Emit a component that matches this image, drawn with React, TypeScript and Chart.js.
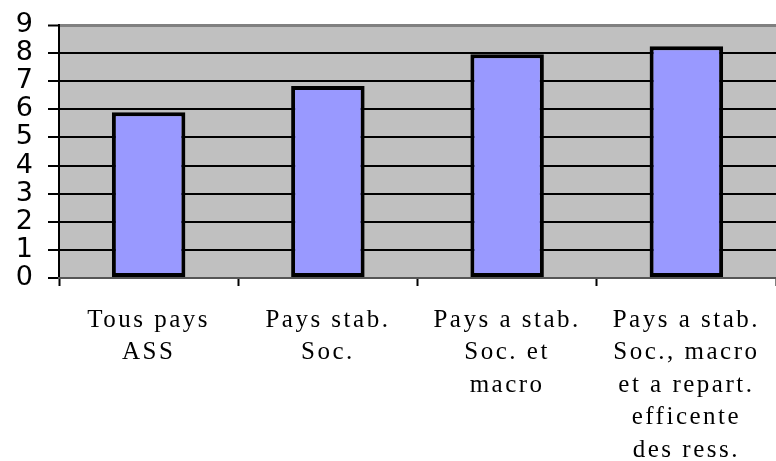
import React, { useEffect, useRef } from "react";
import { Chart, registerables } from "chart.js";

Chart.register(...registerables);

const categories: string[][] = [
  ["Tous pays", "ASS"],
  ["Pays stab.", "Soc."],
  ["Pays a stab.", "Soc. et", "macro"],
  ["Pays a stab.", "Soc., macro", "et a repart.", "efficente", "des ress."],
];
const values: number[] = [5.9, 6.83, 7.96, 8.24];
const yMin = 0;
const yMax = 9;
const yStep = 1;

const bgPlugin = {
  id: "plotBg",
  beforeDraw(chart: any) {
    const { ctx, chartArea } = chart;
    ctx.save();
    ctx.fillStyle = "#C0C0C0";
    ctx.fillRect(chartArea.left, chartArea.top, chartArea.right - chartArea.left, chartArea.bottom - chartArea.top);
    ctx.restore();
  },
  afterDatasetsDraw(chart: any) {
    chart.ctx.save();
    (chart.ctx as any).letterSpacing = "2.5px";
  },
  afterDraw(chart: any) {
    chart.ctx.restore();
  },
};

export default function App() {
  const ref = useRef<HTMLCanvasElement | null>(null);
  useEffect(() => {
    if (!ref.current) return;
    const chart = new Chart(ref.current, {
      type: "bar",
      data: {
        labels: categories,
        datasets: [
          {
            data: values,
            backgroundColor: "#9999FF",
            borderColor: "#000000",
            borderWidth: 4,
            borderSkipped: false,
            barPercentage: 0.41,
            categoryPercentage: 1,
          },
        ],
      },
      options: {
        animation: false,
        responsive: true,
        maintainAspectRatio: false,
        layout: { padding: { top: 25, left: 0, right: 0, bottom: 0 } },
        plugins: { legend: { display: false }, tooltip: { enabled: false } },
        scales: {
          y: {
            min: yMin,
            max: yMax,
            ticks: {
              stepSize: yStep,
              autoSkip: false,
              color: "#000000",
              padding: 15,
              font: { family: "'DejaVu Sans', Arial, sans-serif", size: 27, lineHeight: 1 },
            },
            grid: {
              color: (c: any) => (c.tick && c.tick.value === yMax ? "#808080" : "#000000"),
              lineWidth: (c: any) => (c.tick && c.tick.value === yMax ? 3 : 2),
              tickColor: "#000000",
              tickWidth: 2,
              tickLength: 11,
            },
            border: { display: true, color: "#000000", width: 2 },
            afterFit(scale: any) {
              scale.width = 59;
              scale.paddingTop = 0;
              scale.paddingBottom = 0;
            },
          },
          x: {
            ticks: {
              color: "#000000",
              padding: 18,
              maxRotation: 0,
              autoSkip: false,
              z: 1,
              font: { family: "'Liberation Serif', 'Times New Roman', serif", size: 25, lineHeight: 1.3 },
            },
            grid: {
              drawOnChartArea: false,
              drawTicks: true,
              tickLength: 8,
              tickColor: "#000000",
              tickWidth: 2,
            },
            border: { display: true, color: "#555555", width: 2 },
            afterFit(scale: any) {
              scale.height = 183;
              scale.paddingLeft = 0;
              scale.paddingRight = 0;
            },
          },
        },
      },
      plugins: [bgPlugin],
    });
    return () => chart.destroy();
  }, []);
  return (
    <div style={{ position: "fixed", left: 0, top: 0, width: 776, height: 461, background: "#ffffff" }}>
      <canvas ref={ref} />
    </div>
  );
}
